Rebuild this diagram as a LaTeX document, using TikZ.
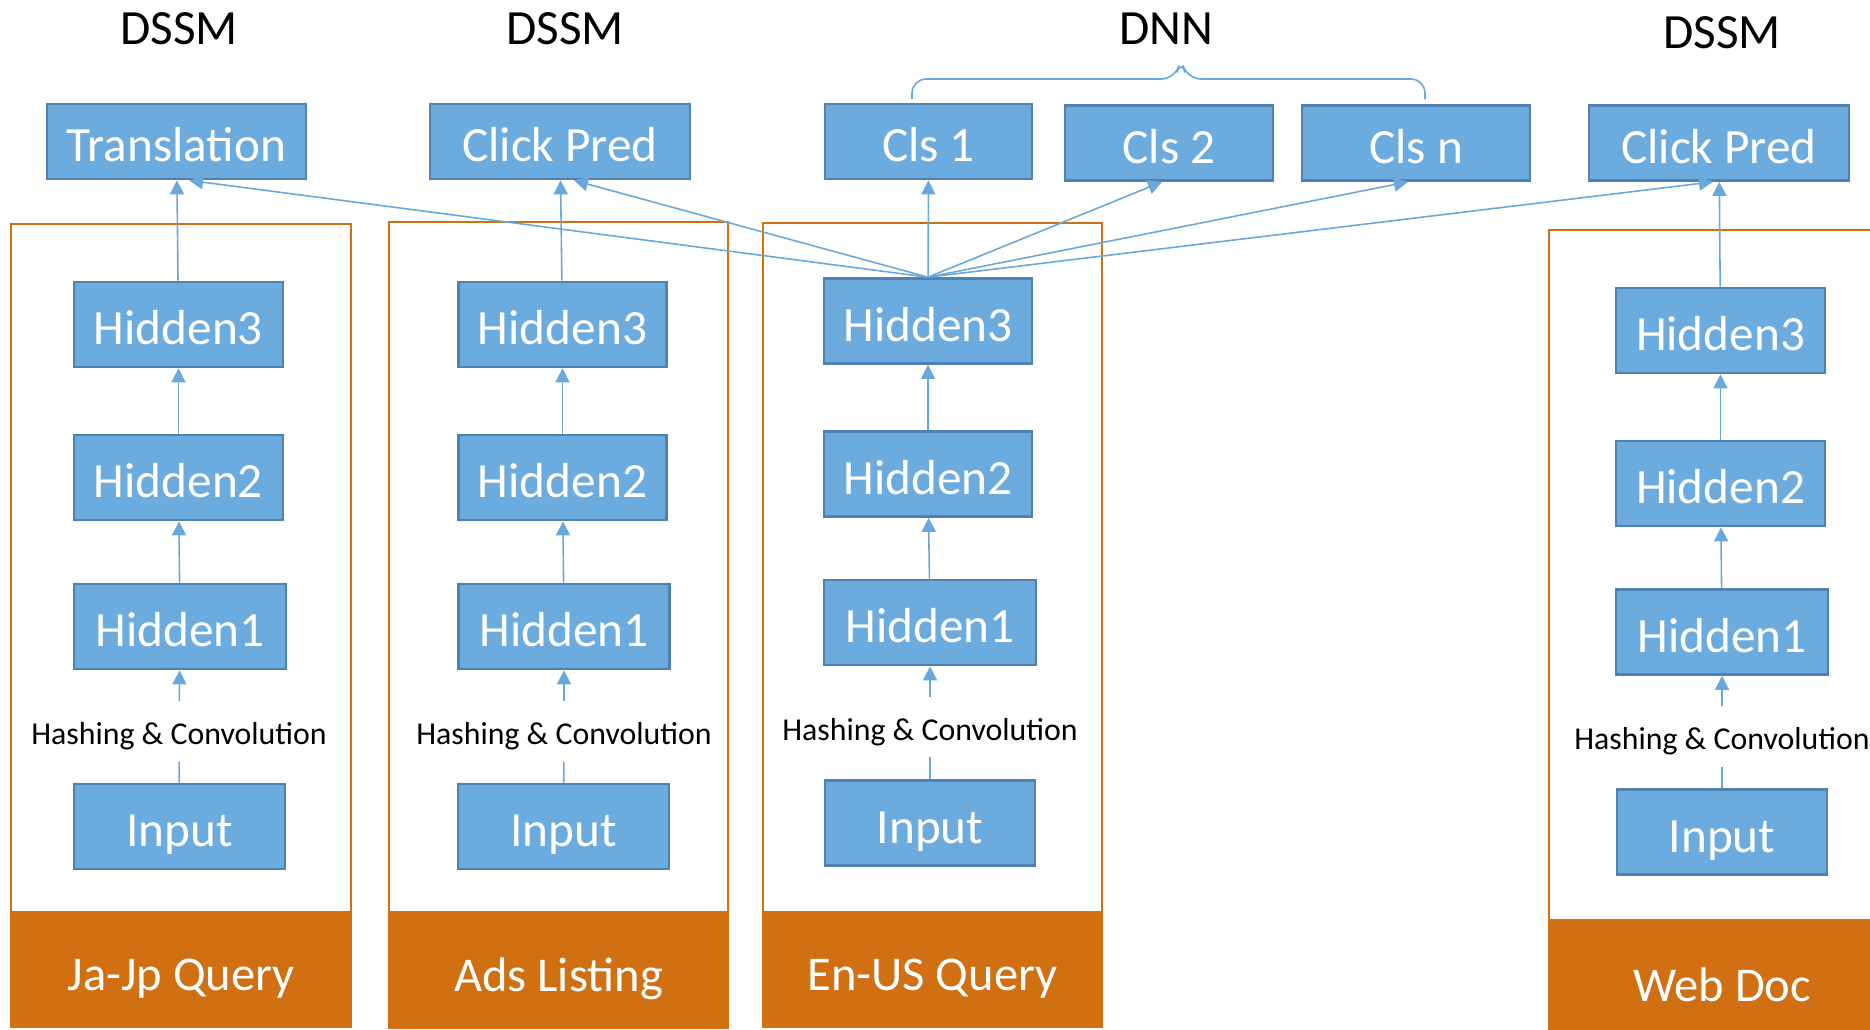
\documentclass[tikz,border=0pt]{standalone}
\usepackage{fontspec}
\setmainfont{Carlito}
\usetikzlibrary{arrows.meta}

\definecolor{layerfill}{RGB}{108,171,221}
\definecolor{layerdraw}{RGB}{80,129,176}
\definecolor{linkblue}{RGB}{104,168,220}
\definecolor{srcorange}{RGB}{209,111,19}

\tikzset{
  layer/.style={draw=layerdraw, fill=layerfill, line width=0.75pt, text=white,
    inner sep=0pt, minimum height=0.85cm, font=\fontsize{14}{16}\selectfont,
    text height=11.4pt, text depth=0pt},
  task/.style={layer, minimum height=0.75cm},
  hashtext/.style={inner sep=0pt, minimum height=0.59cm,
    font=\fontsize{9.05}{11}\selectfont, text height=7.4pt, text depth=0pt},
  source/.style={fill=srcorange, draw=srcorange, line width=0.75pt, text=white,
    inner sep=0pt, font=\fontsize{13.8}{16}\selectfont,
    text height=12.2pt, text depth=0pt},
  title/.style={inner sep=0pt, font=\fontsize{14}{16}\selectfont,
    text height=8.85pt, text depth=0pt},
  frame/.style={draw=srcorange, line width=0.75pt},
  plainlink/.style={draw=linkblue, line width=0.45pt},
  link/.style={plainlink, -{Triangle[length=4pt,width=4pt]}}
}

\begin{document}
\begin{tikzpicture}[x=0.01cm, y=-0.01cm]
  \useasboundingbox (0,0) rectangle (1870,1029);
  \clip (0,0) rectangle (1870,1029);
  % frames round each tower
  \draw [frame] (11,224) rectangle (351,1027);
  \draw [frame] (389,222) rectangle (728,1028);
  \draw [frame] (763,223) rectangle (1102,1027);
  \draw [frame] (1549,230) rectangle (1895,1048);
  % titles
  \node [title] (dssma) at (179,29) {DSSM};
  \node [title] (dssmb) at (565,29) {DSSM};
  \node [title] (dnn) at (1166,29) {DNN};
  \node [title] (dssmc) at (1722,33) {DSSM};
  % brace over the classifiers
  \draw [linkblue, line width=0.45pt, rounded corners=4]
    (912,99) -- (912,79) -- (1175,79) -- (1181,59) -- (1187,79) -- (1425,79) -- (1425,99);
  % task boxes
  \node [task, minimum width=2.59cm] (trans) at (176.5,141.5) {Translation};
  \node [task, minimum width=2.60cm] (clicka) at (560,141.5) {Click Pred};
  \node [task, minimum width=2.07cm] (cls1) at (928.5,141.5) {Cls 1};
  \node [task, minimum width=2.08cm] (cls2) at (1169,143) {Cls 2};
  \node [task, minimum width=2.28cm] (clsn) at (1416,143) {Cls n};
  \node [task, minimum width=2.60cm] (clickb) at (1719,143) {Click Pred};
  % Ja-Jp Query tower
  \node [layer, minimum width=2.09cm] (h3a) at (178.5,324.5) {Hidden3};
  \node [layer, minimum width=2.09cm] (h2a) at (178.5,477.5) {Hidden2};
  \node [layer, minimum width=2.12cm] (h1a) at (180,626.5) {Hidden1};
  \node [hashtext] (hasha) at (179,731.5) {Hashing \& Convolution};
  \node [layer, minimum width=2.11cm] (ina) at (179.5,826.5) {Input};
  \node [source, minimum width=3.40cm, minimum height=1.15cm] (jaq) at (181,969.5) {Ja-Jp Query};
  % Ads Listing tower
  \node [layer, minimum width=2.08cm] (h3b) at (562.5,324.5) {Hidden3};
  \node [layer, minimum width=2.08cm] (h2b) at (562.5,477.5) {Hidden2};
  \node [layer, minimum width=2.11cm] (h1b) at (564,626.5) {Hidden1};
  \node [hashtext] (hashb) at (564,731.5) {Hashing \& Convolution};
  \node [layer, minimum width=2.11cm] (inb) at (563.5,826.5) {Input};
  \node [source, minimum width=3.39cm, minimum height=1.16cm] (ads) at (558.5,970) {Ads Listing};
  % En-US Query tower
  \node [layer, minimum width=2.08cm] (h3c) at (928,321) {Hidden3};
  \node [layer, minimum width=2.08cm] (h2c) at (928,474) {Hidden2};
  \node [layer, minimum width=2.12cm] (h1c) at (930,622.5) {Hidden1};
  \node [hashtext] (hashc) at (930,727) {Hashing \& Convolution};
  \node [layer, minimum width=2.10cm] (inc) at (930,823) {Input};
  \node [source, minimum width=3.39cm, minimum height=1.15cm] (enq) at (932.5,969.5) {En-US Query};
  % Web Doc tower
  \node [layer, minimum width=2.09cm] (h3d) at (1720.5,330.5) {Hidden3};
  \node [layer, minimum width=2.09cm] (h2d) at (1720.5,483.5) {Hidden2};
  \node [layer, minimum width=2.12cm] (h1d) at (1722,632) {Hidden1};
  \node [hashtext] (hashd) at (1722,736.5) {Hashing \& Convolution};
  \node [layer, minimum width=2.10cm] (ind) at (1722,832) {Input};
  \node [source, minimum width=3.46cm, minimum height=1.20cm] (web) at (1722,980) {Web Doc};
  % links inside each tower
  \foreach \c in {a,b,c,d} {
    \draw [plainlink] (in\c) -- (hash\c);
    \draw [link] (hash\c) -- (h1\c);
    \draw [link] (h1\c) -- (h2\c);
    \draw [link] (h2\c) -- (h3\c);
  }
  \draw [link] (h3a) -- (trans);
  \draw [link] (h3b) -- (clicka);
  \draw [link] (h3d) -- (clickb);
  % shared En-US representation
  \draw [link] (h3c.north) -- ([xshift=0.125cm]trans.south);
  \draw [link] (h3c.north) -- ([xshift=0.14cm]clicka.south);
  \draw [link] (h3c) -- (cls1);
  \draw [link] (h3c.north) -- ([xshift=-0.07cm]cls2.south);
  \draw [link] (h3c.north) -- ([xshift=-0.08cm]clsn.south);
  \draw [link] (h3c.north) -- ([xshift=-0.06cm]clickb.south);
\end{tikzpicture}
\end{document}
